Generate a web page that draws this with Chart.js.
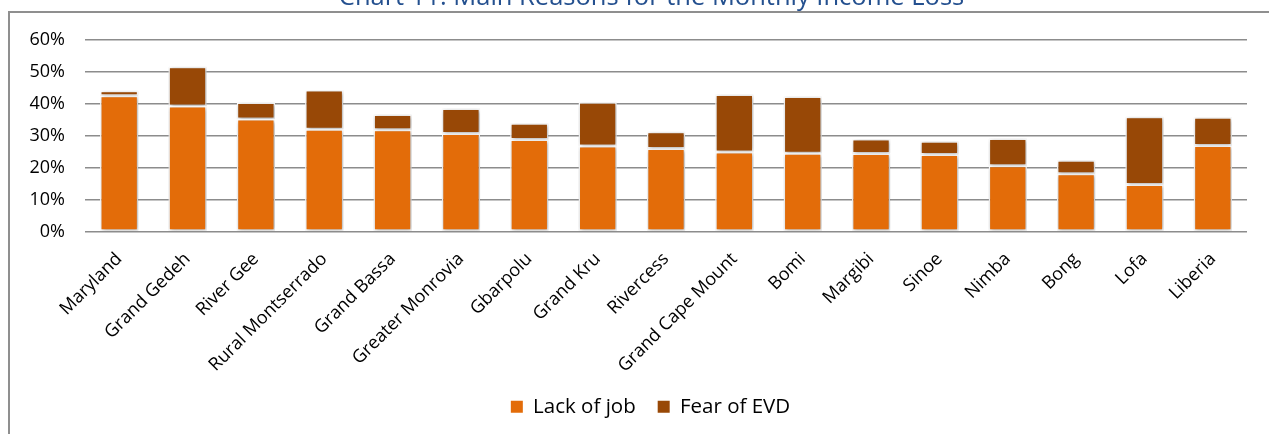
<!DOCTYPE html>
<html>
<head>
<meta charset="utf-8">
<script src="https://cdn.jsdelivr.net/npm/chart.js@4.4.1/dist/chart.umd.min.js"></script>
<style>
  html, body { margin: 0; padding: 0; background: #fff; overflow: hidden; }
  #page { position: relative; width: 1269px; height: 434px; overflow: hidden; }
  #frame { position: absolute; left: 8px; top: 11px; width: 1300px; height: 500px; border: 2px solid #8f8f8f; box-sizing: border-box; }
  #wrap { position: absolute; left: 0; top: -20px; width: 1269px; height: 454px; }
</style>
</head>
<body>
<div id="page">
  <div id="frame"></div>
  <div id="wrap"><canvas id="incomeChart"></canvas></div>
</div>
<script>
// counties, sorted as in the source chart
const categories = ["Maryland", "Grand Gedeh", "River Gee", "Rural Montserrado", "Grand Bassa",
  "Greater Monrovia", "Gbarpolu", "Grand Kru", "Rivercess", "Grand Cape Mount", "Bomi",
  "Margibi", "Sinoe", "Nimba", "Bong", "Lofa", "Liberia"];

// share of households (%)
const lackOfJob = [42.5, 39.3, 35.2, 32.0, 31.9, 30.7, 28.8, 26.8, 26.0, 24.9, 24.5, 24.4, 24.1, 20.6, 18.1, 14.7, 26.9];
const fearOfEVD = [1.6, 12.3, 5.2, 12.3, 4.7, 7.8, 5.1, 13.7, 5.2, 18.0, 17.8, 4.6, 4.2, 8.5, 4.2, 21.2, 8.9];

const yTicks = [0, 10, 20, 30, 40, 50, 60];

Chart.defaults.font.family = "'Open Sans', sans-serif";
Chart.defaults.color = "#000";

// soft drop shadow under the bars, like the Excel original
const barShadow = {
  id: "barShadow",
  beforeDatasetsDraw(chart) {
    const ctx = chart.ctx;
    ctx.save();
    ctx.shadowColor = "rgba(0,0,0,0.35)";
    ctx.shadowBlur = 4;
    ctx.shadowOffsetX = 1;
    ctx.shadowOffsetY = 1;
  },
  afterDatasetsDraw(chart) {
    chart.ctx.restore();
  }
};

// title and legend are centred on the whole frame, not the plot
const centreOnFrame = {
  id: "centreOnFrame",
  afterLayout(chart) {
    if (chart.titleBlock) { chart.titleBlock.left += 23; chart.titleBlock.right += 23; }
    if (chart.legend) { chart.legend.left += 22; chart.legend.right += 22; }
  }
};

const ctx = document.getElementById("incomeChart").getContext("2d");
new Chart(ctx, {
  type: "bar",
  data: {
    labels: categories,
    datasets: [
      {
        label: "Lack of job",
        data: lackOfJob,
        backgroundColor: "#E36C09",
        borderColor: "#ffffff",
        borderWidth: 1.5,
        borderSkipped: false
      },
      {
        label: "Fear of EVD",
        data: fearOfEVD,
        backgroundColor: "#984806",
        borderColor: "#ffffff",
        borderWidth: 1.5,
        borderSkipped: false
      }
    ]
  },
  options: {
    responsive: true,
    maintainAspectRatio: false,
    animation: false,
    layout: { padding: { left: 10, right: 22, top: 0, bottom: 7 } },
    datasets: { bar: { categoryPercentage: 1, barPercentage: 0.56 } },
    plugins: {
      title: {
        display: true,
        text: "Chart 11: Main Reasons for the Monthly Income Loss",
        color: "#24508F",
        font: { size: 25.5, weight: "normal" },
        padding: { top: 2.3, bottom: 27 }
      },
      legend: {
        position: "bottom",
        labels: {
          boxWidth: 12,
          boxHeight: 12,
          padding: 22,
          font: { size: 20.5 },
          generateLabels(chart) {
            return chart.data.datasets.map((ds, i) => ({
              text: ds.label,
              fillStyle: ds.backgroundColor,
              strokeStyle: ds.backgroundColor,
              lineWidth: 0,
              datasetIndex: i
            }));
          }
        }
      },
      tooltip: { enabled: false }
    },
    scales: {
      x: {
        stacked: true,
        grid: { display: false },
        border: { display: false },
        afterFit(scale) { scale.height = 143; },
        ticks: { maxRotation: 45, minRotation: 45, padding: 9, font: { size: 18 }, autoSkip: false }
      },
      y: {
        stacked: true,
        min: 0,
        max: 60,
        afterFit(scale) { scale.width = 75; },
        afterBuildTicks(scale) { scale.ticks = yTicks.map(v => ({ value: v })); },
        grid: { color: "#8c8c8c", lineWidth: 1.5, drawTicks: false },
        border: { display: false },
        ticks: { padding: 20, font: { size: 18 }, callback: v => v + "%" }
      }
    }
  },
  plugins: [barShadow, centreOnFrame]
});
</script>
</body>
</html>
